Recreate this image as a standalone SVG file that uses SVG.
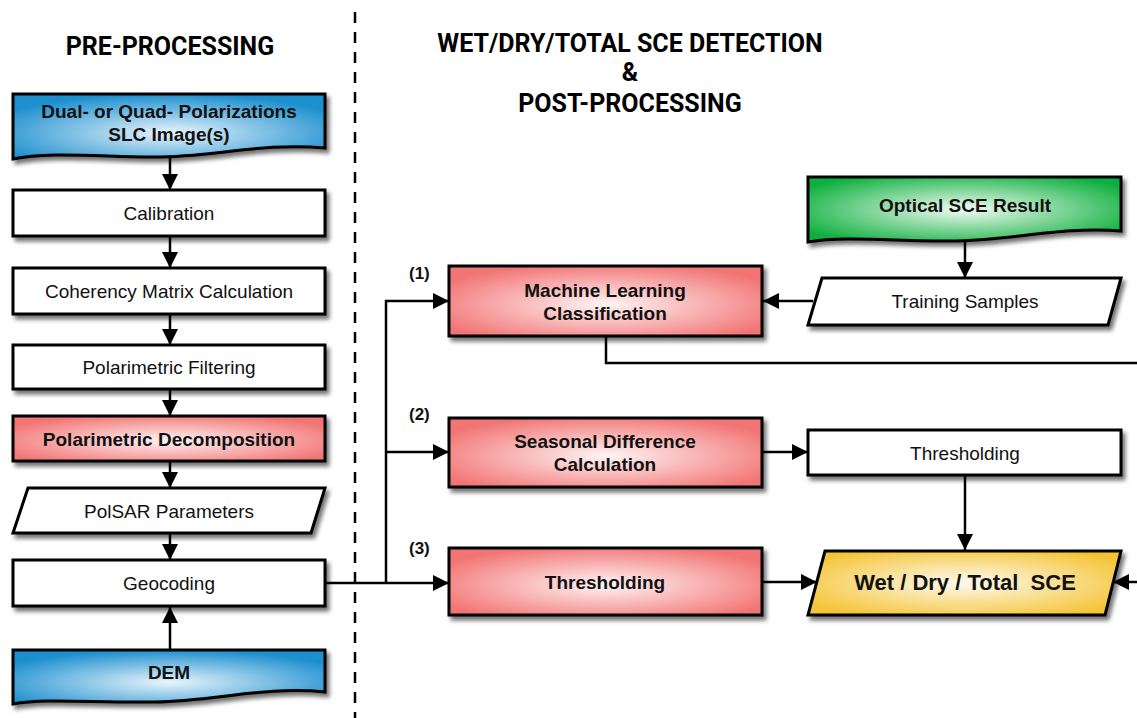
<svg xmlns="http://www.w3.org/2000/svg" width="1137" height="718" viewBox="0 0 1137 718">
<style>
.box{stroke:#000;stroke-width:3;filter:url(#sh)}
.w{fill:#fff}
.t{font-family:"Liberation Sans",Arial,sans-serif;font-size:19px;text-anchor:middle;fill:#111}
.b{font-weight:bold}
.h{font-family:Roboto,"Liberation Sans",sans-serif;font-weight:bold;font-size:25px;text-anchor:middle;fill:#000}
.lbl{font-family:"Liberation Sans",Arial,sans-serif;font-weight:bold;font-size:17px;fill:#111}
.c{fill:none;stroke:#000;stroke-width:2.5}
</style>
<defs>
<filter id="sh" x="-10%" y="-20%" width="125%" height="150%">
<feDropShadow dx="3" dy="4" stdDeviation="2" flood-color="#000" flood-opacity="0.55"/>
</filter>
<radialGradient id="gBlue" cx="50%" cy="60%" r="60%"><stop offset="0" stop-color="#e8f4fc"/><stop offset="1" stop-color="#1e90cf"/></radialGradient>
<radialGradient id="gRed" cx="50%" cy="55%" r="60%"><stop offset="0" stop-color="#fff4f4"/><stop offset="1" stop-color="#f27474"/></radialGradient>
<radialGradient id="gGreen" cx="50%" cy="50%" r="60%"><stop offset="0" stop-color="#f2fbf4"/><stop offset="1" stop-color="#11b040"/></radialGradient>
<radialGradient id="gYel" cx="50%" cy="50%" r="60%"><stop offset="0" stop-color="#fffaf0"/><stop offset="1" stop-color="#f4c435"/></radialGradient>
<marker id="ar" markerUnits="userSpaceOnUse" markerWidth="18" markerHeight="16" refX="16" refY="8" orient="auto">
<path d="M0,0 L16,8 L0,16 Z" fill="#000"/>
</marker>
</defs>

<line x1="355" y1="12" x2="355" y2="718" stroke="#000" stroke-width="2.5" stroke-dasharray="11,9"/>

<text class="h" x="170" y="55">PRE-PROCESSING</text>
<text class="h" x="630" y="52">WET/DRY/TOTAL SCE DETECTION</text>
<text class="h" x="630" y="81">&amp;</text>
<text class="h" x="630" y="112">POST-PROCESSING</text>

<g id="connectors">
<line class="c" x1="170" y1="158" x2="170" y2="190" marker-end="url(#ar)"/>
<line class="c" x1="170" y1="236" x2="170" y2="268" marker-end="url(#ar)"/>
<line class="c" x1="170" y1="314" x2="170" y2="345" marker-end="url(#ar)"/>
<line class="c" x1="170" y1="389" x2="170" y2="416" marker-end="url(#ar)"/>
<line class="c" x1="170" y1="461" x2="170" y2="488" marker-end="url(#ar)"/>
<line class="c" x1="170" y1="533" x2="170" y2="560" marker-end="url(#ar)"/>
<line class="c" x1="170" y1="650" x2="170" y2="607" marker-end="url(#ar)"/>
<line class="c" x1="325" y1="583" x2="449" y2="583" marker-end="url(#ar)"/>
<polyline class="c" points="386,583 386,301 449,301" marker-end="url(#ar)"/>
<line class="c" x1="386" y1="452" x2="449" y2="452" marker-end="url(#ar)"/>
<line class="c" x1="965" y1="240" x2="965" y2="278" marker-end="url(#ar)"/>
<line class="c" x1="813" y1="301" x2="763" y2="301" marker-end="url(#ar)"/>
<polyline class="c" points="606,336 606,363 1137,363"/>
<line class="c" x1="762" y1="452" x2="808" y2="452" marker-end="url(#ar)"/>
<line class="c" x1="965" y1="475" x2="965" y2="550" marker-end="url(#ar)"/>
<line class="c" x1="762" y1="582" x2="817" y2="582" marker-end="url(#ar)"/>
<line class="c" x1="1137" y1="582" x2="1113" y2="582" marker-end="url(#ar)"/>
</g>

<g id="n-slc">
<path class="box" fill="url(#gBlue)" d="M13,94 H325 V148 C 260,142 210,158 150,157 C 90,156 45,152 13,159 Z"/>
<text class="t b" x="169" y="118">Dual- or Quad- Polarizations</text>
<text class="t b" x="169" y="141">SLC Image(s)</text>
</g>
<g id="n-cal">
<rect class="box w" x="13" y="190" width="312" height="46"/>
<text class="t" x="169" y="220">Calibration</text>
</g>
<g id="n-coh">
<rect class="box w" x="13" y="268" width="312" height="46"/>
<text class="t" x="169" y="298">Coherency Matrix Calculation</text>
</g>
<g id="n-filt">
<rect class="box w" x="13" y="345" width="312" height="44"/>
<text class="t" x="169" y="374">Polarimetric Filtering</text>
</g>
<g id="n-dec">
<rect class="box" fill="url(#gRed)" x="13" y="416" width="312" height="45"/>
<text class="t b" x="169" y="446">Polarimetric Decomposition</text>
</g>
<g id="n-polsar">
<path class="box w" d="M28,488 H325 L311,533 H13 Z"/>
<text class="t" x="169" y="518">PolSAR Parameters</text>
</g>
<g id="n-geo">
<rect class="box w" x="13" y="560" width="312" height="46"/>
<text class="t" x="169" y="590">Geocoding</text>
</g>
<g id="n-dem">
<path class="box" fill="url(#gBlue)" d="M13,650 H325 V692 C 265,686 215,701 155,702 C 95,703 45,698 13,704 Z"/>
<text class="t b" x="169" y="679">DEM</text>
</g>

<g id="n-optical">
<path class="box" fill="url(#gGreen)" d="M808,177 H1121 V231 C 1060,226 1010,241 950,241 C 890,241 845,236 808,242 Z"/>
<text class="t b" x="965" y="212">Optical SCE Result</text>
</g>
<g id="n-train">
<path class="box w" d="M822,278 H1121 L1108,325 H808 Z"/>
<text class="t" x="965" y="308">Training Samples</text>
</g>
<g id="n-ml">
<rect class="box" fill="url(#gRed)" x="449" y="266" width="313" height="70"/>
<text class="t b" x="605" y="297">Machine Learning</text>
<text class="t b" x="605" y="320">Classification</text>
</g>
<g id="n-sd">
<rect class="box" fill="url(#gRed)" x="449" y="418" width="313" height="69"/>
<text class="t b" x="605" y="448">Seasonal Difference</text>
<text class="t b" x="605" y="471">Calculation</text>
</g>
<g id="n-thr2">
<rect class="box w" x="808" y="430" width="313" height="45"/>
<text class="t" x="965" y="460">Thresholding</text>
</g>
<g id="n-thr">
<rect class="box" fill="url(#gRed)" x="449" y="548" width="313" height="67"/>
<text class="t b" x="605" y="589">Thresholding</text>
</g>
<g id="n-wet">
<path class="box" fill="url(#gYel)" d="M825,551 H1121 L1105,615 H808 Z"/>
<text class="t b" x="965" y="590" style="font-size:22px;white-space:pre" xml:space="preserve">Wet / Dry / Total  SCE</text>
</g>

<text class="lbl" x="409" y="279">(1)</text>
<text class="lbl" x="409" y="420">(2)</text>
<text class="lbl" x="409" y="554">(3)</text>
</svg>
